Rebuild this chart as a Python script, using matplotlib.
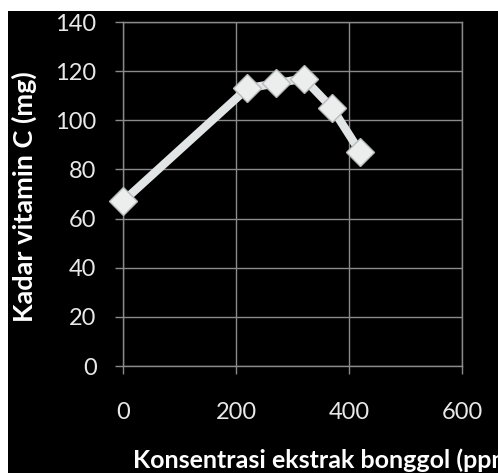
import matplotlib
matplotlib.use("Agg")
import matplotlib.pyplot as plt
from matplotlib.patches import Rectangle

# Data
konsentrasi = [0, 220, 270, 320, 370, 420]
vitamin_c = [67, 113, 115, 117, 105, 87]

x_ticks = [0, 200, 400, 600]
y_ticks = [0, 20, 40, 60, 80, 100, 120, 140]

W, H = 498, 473
fig = plt.figure(figsize=(W / 100, H / 100), dpi=100, facecolor="white")
# black chart area with a thin white strip on the top and left edges
fig.patches.append(Rectangle((8 / W, 0), 1, 1 - 11 / H, transform=fig.transFigure,
                             facecolor="black", edgecolor="none", zorder=-5))

ax = fig.add_axes([123 / W, 1 - 366 / H, (462 - 123) / W, (366 - 22) / H])
ax.set_facecolor("black")
ax.set_zorder(2)

grid_c = "#8a8a8a"
ax.plot(konsentrasi, vitamin_c, color="#e2e5e5", linewidth=6, marker="D",
        markersize=14, markerfacecolor="#eceeee", markeredgecolor="#b8bcbc",
        markeredgewidth=1, solid_capstyle="round", zorder=3, clip_on=False)

ax.set_xlim(0, 600)
ax.set_ylim(0, 140)
ax.set_xticks(x_ticks)
ax.set_yticks(y_ticks)
ax.grid(True, color=grid_c, linewidth=1)
for s in ax.spines.values():
    s.set_color(grid_c)
    s.set_linewidth(1)
ax.tick_params(axis="both", direction="out", length=6, width=1, color=grid_c,
               labelcolor="#e8e8e8", labelsize=17)
ax.tick_params(axis="y", pad=13)
ax.tick_params(axis="x", pad=20)
for lab in ax.get_xticklabels() + ax.get_yticklabels():
    lab.set_family("Lato")

# x label runs off the right edge, as in the original
fig.text(133 / W, 1 - 468 / H, "Konsentrasi ekstrak bonggol (ppm)", color="white",
         fontsize=18, fontweight="bold", family="Lato", ha="left", va="baseline")
fig.text(24 / W, 1 - 197 / H, "Kadar vitamin C (mg)", color="white", rotation=90,
         fontsize=19.5, fontweight="bold", family="Lato", ha="center", va="center")

fig.savefig("out.png", dpi=100, facecolor=fig.get_facecolor())
